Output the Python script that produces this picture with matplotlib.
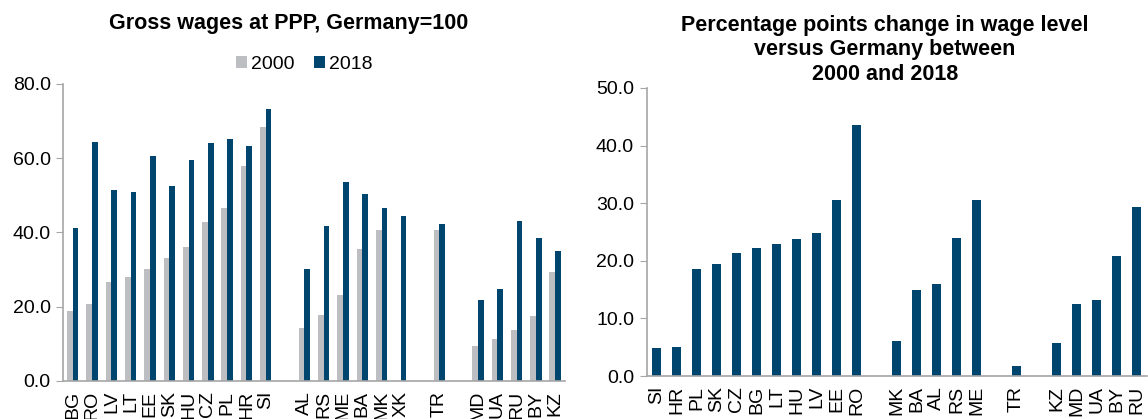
import numpy as np
import matplotlib
matplotlib.use('Agg')
import matplotlib.pyplot as plt

plt.rcParams['font.family'] = ['Liberation Sans', 'DejaVu Sans']

# Panel izquierdo: salarios brutos en PPA, Alemania=100 ('' = hueco entre grupos)
paises_izq = ['BG', 'RO', 'LV', 'LT', 'EE', 'SK', 'HU', 'CZ', 'PL', 'HR', 'SI', '',
              'AL', 'RS', 'ME', 'BA', 'MK', 'XK', '', 'TR', '',
              'MD', 'UA', 'RU', 'BY', 'KZ']
sal_2000 = [18.9, 20.8, 26.7, 28.1, 30.2, 33.1, 36.0, 42.8, 46.6, 58.0, 68.5, None,
            14.4, 17.8, 23.2, 35.6, 40.7, None, None, 40.6, None,
            9.4, 11.4, 13.8, 17.5, 29.4]
sal_2018 = [41.2, 64.4, 51.4, 51.0, 60.6, 52.6, 59.6, 64.1, 65.1, 63.2, 73.3, None,
            30.2, 41.8, 53.7, 50.4, 46.7, 44.3, None, 42.4, None,
            21.8, 24.8, 43.0, 38.4, 35.1]

# Panel derecho: cambio en puntos porcentuales 2000-2018
paises_der = ['SI', 'HR', 'PL', 'SK', 'CZ', 'BG', 'LT', 'HU', 'LV', 'EE', 'RO', '',
              'MK', 'BA', 'AL', 'RS', 'ME', '', 'TR', '',
              'KZ', 'MD', 'UA', 'BY', 'RU']
cambio = [4.8, 5.1, 18.5, 19.5, 21.3, 22.3, 23.0, 23.7, 24.8, 30.5, 43.6, None,
          6.1, 14.9, 15.9, 24.0, 30.5, None, 1.8, None,
          5.8, 12.5, 13.2, 20.9, 29.3]

azul = '#00456E'
gris = '#BDBEC1'
gris_eje = '#A6A6A6'


def a_float(valores):
    return np.array([np.nan if v is None else v for v in valores], dtype=float)


def estilo_eje(ax, n, ymax, paso):
    ax.set_xlim(-0.5, n - 0.5)
    ax.set_ylim(0, ymax)
    ax.set_yticks(np.arange(0, ymax + 0.1, paso))
    ax.yaxis.set_major_formatter(matplotlib.ticker.FormatStrFormatter('%.1f'))
    for lado in ['top', 'right']:
        ax.spines[lado].set_visible(False)
    for lado in ['left', 'bottom']:
        ax.spines[lado].set_color(gris_eje)
        ax.spines[lado].set_linewidth(1.2)
    ax.tick_params(axis='y', length=5, color=gris_eje, labelsize=14, pad=4)
    ax.tick_params(axis='x', length=0, labelsize=14, pad=7, rotation=90)


fig = plt.figure(figsize=(11.48, 4.19), dpi=100)

# Grafico izquierdo
ax1 = fig.add_axes([0.055, 0.0907, 0.437, 0.709])
x1 = np.arange(len(paises_izq))
ancho = 0.294
ax1.bar(x1 - ancho / 2, a_float(sal_2000), ancho, color=gris, label='2000')
ax1.bar(x1 + ancho / 2, a_float(sal_2018), ancho, color=azul, label='2018')
estilo_eje(ax1, len(paises_izq), 80, 20)
ax1.set_xticks(x1)
ax1.set_xticklabels(paises_izq)
fig.text(0.251, 0.945, 'Gross wages at PPP, Germany=100', fontsize=15.5,
         fontweight='bold', ha='center', va='center')
fig.legend(loc='center', bbox_to_anchor=(0.265, 0.847), ncol=2, frameon=False,
           fontsize=14, handlelength=0.55, handleheight=0.55, handletextpad=0.2,
           columnspacing=1.0, borderaxespad=0)

# Grafico derecho
ax2 = fig.add_axes([0.5632, 0.1026, 0.4355, 0.6874])
x2 = np.arange(len(paises_der))
ax2.bar(x2, a_float(cambio), 0.42, color=azul)
estilo_eje(ax2, len(paises_der), 50, 10)
ax2.set_xticks(x2)
ax2.set_xticklabels(paises_der)
fig.text(0.771, 0.881, 'Percentage points change in wage level\nversus Germany between\n2000 and 2018',
         fontsize=15.5, fontweight='bold', ha='center', va='center', linespacing=1.2)

plt.savefig('out.png', dpi=100)
